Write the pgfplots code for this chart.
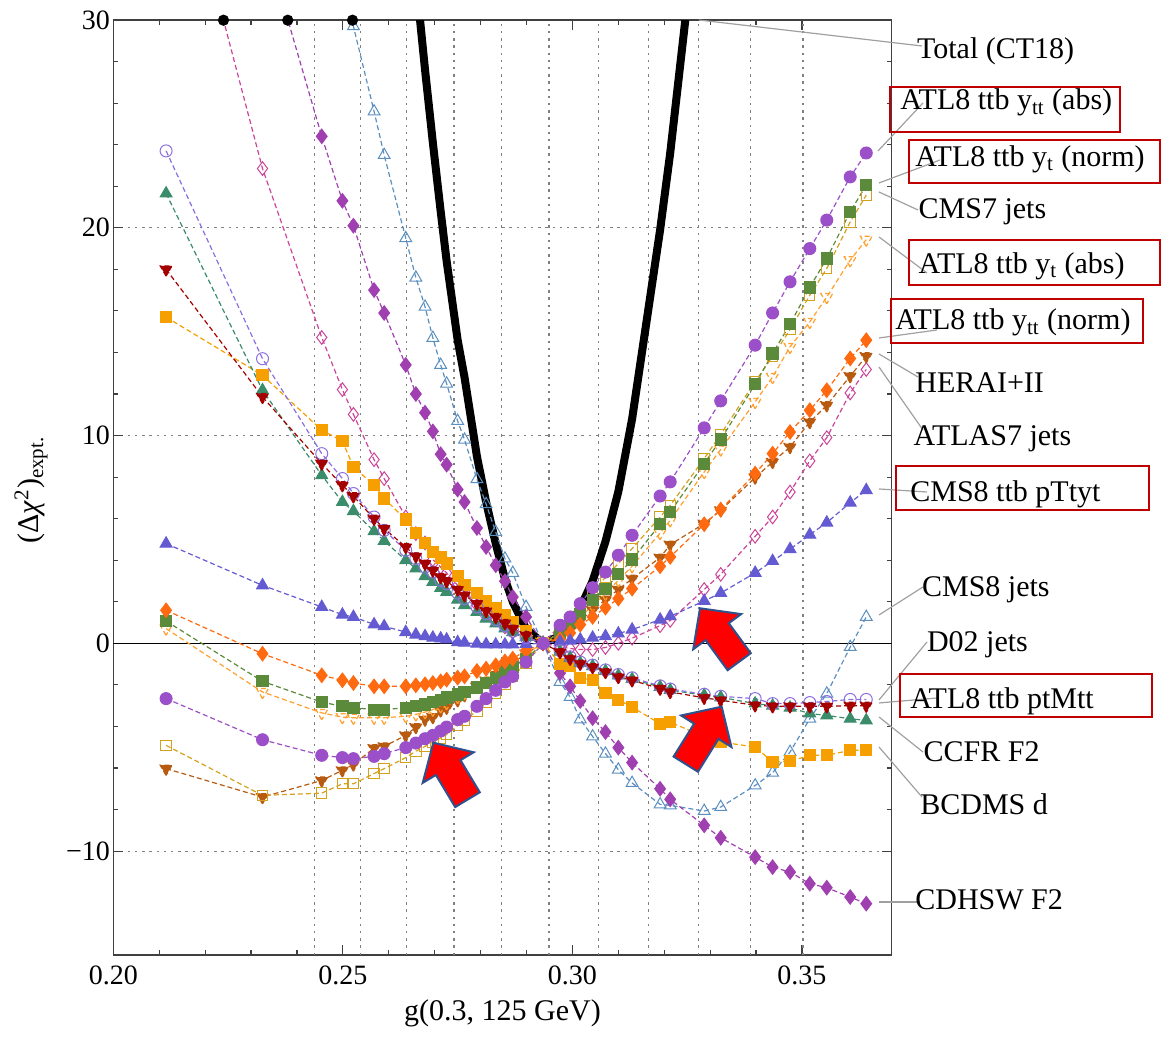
\documentclass[border=0pt]{standalone}
\usepackage{fontspec}
\setmainfont{Liberation Serif}
\usepackage{pgfplots}
\pgfplotsset{compat=1.18}
\usepackage{pgfplotstable}

\definecolor{cA}{RGB}{140,110,225}
\definecolor{cB}{RGB}{58,140,106}
\definecolor{cC}{RGB}{165,0,0}
\definecolor{cD}{RGB}{245,160,0}
\definecolor{cE}{RGB}{100,90,210}
\definecolor{cF}{RGB}{255,106,16}
\definecolor{cG}{RGB}{90,138,58}
\definecolor{cH}{RGB}{255,160,48}
\definecolor{cI}{RGB}{155,79,200}
\definecolor{cJ}{RGB}{212,160,32}
\definecolor{cK}{RGB}{184,90,16}
\definecolor{cL}{RGB}{204,68,153}
\definecolor{cM}{RGB}{160,64,176}
\definecolor{cN}{RGB}{90,143,192}
\definecolor{boxred}{RGB}{192,0,0}
\definecolor{arrblue}{RGB}{47,82,143}
\definecolor{leader}{RGB}{160,160,160}

\pgfplotstableread{
x      A     B     C     D     E     F     G     H     I     J     K     L     M      N     T
0.2115 23.7  21.65 18.0  15.7  4.8   1.59  1.07  0.71  -2.66 -4.91 -6.03 40.5  55     70    nan
0.2325 13.7  12.18 11.86 12.9  2.79  -0.5  -1.83 -2.34 -4.64 -7.32 -7.4  22.85 34.2   48    nan
0.2454 9.13  8.09  8.65  10.26 1.75  -1.54 -2.83 -3.35 -5.39 -7.21 -6.6  14.72 24.4   36    nan
0.2499 7.93  6.8   7.61  9.74  1.38  -1.78 -3.03 -3.55 -5.5  -6.76 -6.11 12.21 21.3   32.0  nan
0.2523 7.21  6.36  7.08  8.49  1.27  -1.91 -3.1  -3.58 -5.55 -6.76 -5.83 11.02 20.1   29.7  nan
0.2568 6.08  5.39  6.0   7.61  0.91  -2.07 -3.19 -3.58 -5.44 -6.27 -5.04 8.84  17.0   25.6  nan
0.2590 5.44  4.93  5.52  6.97  0.82  -2.07 -3.19 -3.58 -5.31 -6.03 -4.96 7.93  15.9   23.5  nan
0.2637 4.48  4.0   4.64  5.96  0.54  -2.07 -3.1  -3.51 -5.02 -5.5  -4.43 6.08  13.4   19.5  37.3
0.2659 4.08  3.6   4.19  5.31  0.42  -2.02 -3.03 -3.42 -4.8  -5.19 -4.03 5.28  12.0   17.6  32.0
0.2679 3.67  3.23  3.84  4.83  0.34  -1.97 -2.94 -3.31 -4.59 -4.96 -3.67 4.83  11.1   16.2  27.6
0.2696 3.43  2.95  3.51  4.4   0.27  -1.91 -2.83 -3.19 -4.43 -4.75 -3.55 4.03  10.2   14.7  24.1
0.2713 3.03  2.66  3.19  4.13  0.23  -1.83 -2.71 -3.03 -4.22 -4.55 -3.23 3.67  9.1    13.4  20.8
0.2726 2.87  2.47  2.99  3.84  0.18  -1.75 -2.61 -2.87 -4.03 -4.38 -3.1  3.39  8.6    12.5  18.4
0.2750 2.42  2.1   2.59  3.23  0.05  -1.65 -2.46 -2.58 -3.67 -3.95 -2.74 2.79  7.4    10.7  14.6
0.2765 2.15  1.83  2.31  2.79  0.03  -1.59 -2.34 -2.39 -3.51 -3.7  -2.5  2.47  6.8    9.8   12.8
0.2792 1.75  1.51  1.91  2.42  -0.02 -1.33 -2.13 -2.07 -3.03 -3.25 -2.1  1.83  5.55   7.9   9.0
0.2812 1.43  1.19  1.56  2.04  -0.05 -1.22 -1.91 -1.78 -2.66 -2.85 -1.8  1.51  4.64   6.7   6.8
0.2833 1.14  0.95  1.27  1.70  -0.06 -1.06 -1.65 -1.46 -2.26 -2.4  -1.5  1.14  3.76   5.36  4.8
0.2853 0.85  0.71  0.98  1.35  -0.06 -0.87 -1.38 -1.14 -1.86 -1.95 -1.2  0.79  2.99   4.08  3.1
0.2870 0.58  0.54  0.71  1.03  -0.05 -0.74 -1.14 -0.9  -1.59 -1.6  -0.95 0.54  2.23   3.39  2.0
0.2899 0.27  0.3   0.39  0.58  -0.03 -0.34 -0.74 -0.5  -0.9  -0.95 -0.5  0.3   1.27   1.75  0.7
0.2936 0     0     0     0     0     0     0     0     0     0     0     0     0      0     0
0.2973 -0.35 -0.4  -0.42 -0.98 0.08  0.2   0.5   0.4   0.87  0.55  0.3   -0.15 -1.43  -1.86 0.35
0.2995 -0.65 -0.7  -0.74 -1.11 0.12  0.5   1.0   0.85  1.27  1.05  0.7   -0.25 -2.07  -2.58 0.9
0.3017 -0.9  -0.95 -0.98 -1.65 0.18  0.9   1.43  1.25  1.91  1.6   1.1   -0.3  -2.78  -3.66 1.7
0.3044 -1.05 -1.1  -1.14 -1.78 0.27  1.27  2.07  1.83  2.68  2.4   1.6   -0.3  -3.6   -4.48 3.0
0.3072 -1.28 -1.33 -1.38 -2.39 0.34  1.72  2.63  2.39  3.43  3.19  2.1   -0.2  -4.27  -5.31 4.9
0.3100 -1.5  -1.55 -1.62 -2.71 0.47  2.15  3.32  3.03  4.24  3.84  2.59  0.0   -5.02  -6.08 7.3
0.3130 -1.66 -1.72 -1.78 -3.07 0.66  2.63  4.03  3.71  5.2   4.56  3.11  0.25  -5.74  -6.72 10.8
0.3191 -2.05 -2.1  -2.18 -3.87 1.14  3.71  5.73  5.31  7.09  6.08  4.13  0.85  -7.0   -7.75 19.9
0.3213 -2.2  -2.25 -2.34 -3.79 1.3   4.16  6.32  5.92  7.77  6.64  4.75  1.1   -7.51  -7.8  23.6
0.3287 -2.45 -2.5  -2.62 -4.5  2.04  5.73  8.65  8.25  10.37 8.89  5.76  2.59  -8.76  -8.07 38
0.3323 -2.55 -2.6  -2.74 -4.75 2.42  6.44  9.81  9.33  11.67 10.06 6.4   3.32  -9.36  -7.88 nan
0.3398 -2.66 -2.9  -2.98 -4.99 3.39  8.17  12.47 11.62 14.35 12.6  7.98  5.15  -10.29 -6.84 nan
0.3436 -2.9  -3.0  -3.03 -5.71 3.96  9.13  13.95 12.82 15.9  13.8  8.73  6.08  -10.77 -6.23 nan
0.3474 -2.9  -3.1  -3.03 -5.68 4.53  10.17 15.36 14.27 17.4  15.1  9.45  7.28  -11.01 -5.23 nan
0.3517 -2.85 -3.38 -3.03 -5.39 5.23  11.22 17.13 15.47 19.0  16.75 10.65 8.78  -11.57 -3.63 nan
0.3554 -2.8  -3.47 -3.03 -5.39 5.81  12.18 18.52 16.67 20.37 18.04 11.46 9.9   -11.76 -2.42 nan
0.3605 -2.7  -3.63 -3.0  -5.15 6.77  13.71 20.77 18.44 22.45 20.28 12.86 12.05 -12.21 -0.18 nan
0.3640 -2.7  -3.71 -3.0  -5.15 7.37  14.59 22.05 19.43 23.6  21.57 13.82 13.18 -12.53 1.27  nan
}\datatable

\pgfplotsset{
  ser/.style={line width=0.6bp, dash pattern=on 2.5bp off 1.5bp,
              mark options={solid, line width=0.5bp}},
}

\begin{document}
\begin{tikzpicture}
\useasboundingbox (0,0) rectangle (580.5bp,520.5bp);
\begin{axis}[
  at={(56.65bp,43bp)}, anchor=south west,
  scale only axis, width=389.1bp, height=467.5bp,
  xmin=0.2, xmax=0.3695, ymin=-15, ymax=30,
  axis line style={line width=0.7bp, black!75},
  tick style={line width=0.6bp, black!75},
  tick align=inside,
  major tick length=5bp, minor tick length=2.5bp,
  xtick={0.20,0.25,0.30,0.35},
  xticklabels={0.20,0.25,0.30,0.35},
  minor x tick num=4,
  ytick={-10,0,10,20,30},
  yticklabels={−10,0,10,20,30},
  minor y tick num=4,
  ymajorgrids=true,
  major grid style={gray, line width=0.6bp, dash pattern=on 1.2bp off 2.4bp},
  extra x ticks={0.2439,0.2539,0.2639,0.2742,0.2846,0.2949,0.3056,0.3165,0.3275,0.3387,0.3502},
  extra x tick labels={},
  extra x tick style={grid=major, major tick length=0pt},
  ticklabel style={font=\fontsize{14bp}{16bp}\selectfont},
  yticklabel style={inner sep=1.5bp},
  xticklabel style={yshift=-2bp},
]
\draw[black, line width=0.6bp] (axis cs:0.2,0) -- (axis cs:0.3695,0);
\addplot[black, line width=4bp] table[x=x,y=T] {\datatable};
\addplot[ser, cN, mark=triangle, mark size=3.4bp] table[x=x,y=N] {\datatable};
\addplot[ser, cM, mark=diamond*, mark size=3.6bp] table[x=x,y=M] {\datatable};
\addplot[ser, cL, mark=diamond, mark size=3.4bp] table[x=x,y=L] {\datatable};
\addplot[ser, cK, mark=triangle*, mark size=3.4bp, mark options={rotate=180}] table[x=x,y=K] {\datatable};
\addplot[ser, cJ, mark=square, mark size=2.6bp] table[x=x,y=J] {\datatable};
\addplot[ser, cH, mark=triangle, mark size=3.4bp, mark options={rotate=180}] table[x=x,y=H] {\datatable};
\addplot[ser, cG, mark=square*, mark size=2.8bp] table[x=x,y=G] {\datatable};
\addplot[ser, cF, mark=diamond*, mark size=3.6bp] table[x=x,y=F] {\datatable};
\addplot[ser, cE, mark=triangle*, mark size=3.4bp] table[x=x,y=E] {\datatable};
\addplot[ser, cD, mark=square*, mark size=2.8bp] table[x=x,y=D] {\datatable};
\addplot[ser, cB, mark=triangle*, mark size=3.4bp] table[x=x,y=B] {\datatable};
\addplot[ser, cA, mark=o, mark size=3bp] table[x=x,y=A] {\datatable};
\addplot[ser, cC, mark=triangle*, mark size=3.4bp, mark options={rotate=180}] table[x=x,y=C] {\datatable};
\addplot[ser, cI, mark=*, mark size=3bp] table[x=x,y=I] {\datatable};
\addplot[only marks, black, mark=*, mark size=2.6bp] coordinates {(0.2240,29.99) (0.2380,29.99) (0.2521,29.99)};
\end{axis}

\begin{scope}[x=0.5bp, y=-0.5bp, yshift=520.5bp,
  lab/.style={anchor=base west, inner sep=0pt, font=\fontsize{15bp}{18bp}\selectfont}]
  % leader lines
  \draw[leader, line width=0.6bp] (699,20) -- (922,46);
  \draw[leader, line width=0.6bp] (878,151) -- (923,103);
  \draw[leader, line width=0.6bp] (879,183) -- (940,160);
  \draw[leader, line width=0.6bp] (879,192) -- (918,210);
  \draw[leader, line width=0.6bp] (879,237) -- (927,273);
  \draw[leader, line width=0.6bp] (879,338) -- (937,330);
  \draw[leader, line width=0.6bp] (879,354) -- (918,377);
  \draw[leader, line width=0.6bp] (879,367) -- (923,430);
  \draw[leader, line width=0.6bp] (879,489) -- (927,492);
  \draw[leader, line width=0.6bp] (879,615) -- (923,587);
  \draw[leader, line width=0.6bp] (879,700) -- (927,642);
  \draw[leader, line width=0.6bp] (879,703) -- (937,698);
  \draw[leader, line width=0.6bp] (879,717) -- (923,752);
  \draw[leader, line width=0.6bp] (879,747) -- (922,797);
  \draw[leader, line width=0.6bp] (879,902) -- (920,902);
  % labels
  \node[lab] at (916.7,58.3) {Total (CT18)};
  \node[lab] at (900,110) {ATL8 ttb y\textsubscript{tt} (abs)};
  \node[lab] at (915,166.7) {ATL8 ttb y\textsubscript{t} (norm)};
  \node[lab] at (918.3,218.3) {CMS7 jets};
  \node[lab] at (918.3,273.3) {ATL8 ttb y\textsubscript{t} (abs)};
  \node[lab] at (895,330) {ATL8 ttb y\textsubscript{tt} (norm)};
  \node[lab] at (915,392.7) {HERAI+II};
  \node[lab] at (913.3,446) {ATLAS7 jets};
  \node[lab] at (910,501.7) {CMS8 ttb pTtyt};
  \node[lab] at (921.7,596.7) {CMS8 jets};
  \node[lab] at (926.7,651.7) {D02 jets};
  \node[lab] at (910,708.3) {ATL8 ttb ptMtt};
  \node[lab] at (923.3,761.7) {CCFR F2};
  \node[lab] at (920,815) {BCDMS d};
  \node[lab] at (915,910) {CDHSW F2};
  % red boxes
  \draw[boxred, line width=1bp] (890,86.7) rectangle (1120,131.7);
  \draw[boxred, line width=1bp] (909.3,140) rectangle (1160,182.7);
  \draw[boxred, line width=1bp] (909.3,240) rectangle (1160,285);
  \draw[boxred, line width=1bp] (890.7,299) rectangle (1143.3,342.7);
  \draw[boxred, line width=1bp] (896,466) rectangle (1148.7,510);
  \draw[boxred, line width=1bp] (900,674) rectangle (1152,717.3);
  % arrows
  \filldraw[fill=red, draw=arrblue, line width=1bp, line join=miter]
    (433.3,742.7) -- (473.7,752.3) -- (460.5,760.2) -- (479.8,792.3) -- (455.2,807.1) -- (435.9,775.0) -- (422.7,782.9) -- cycle;
  \filldraw[fill=red, draw=arrblue, line width=1bp, line join=miter]
    (700,608.3) -- (741.2,614.1) -- (728.8,623.2) -- (750.8,653.2) -- (727.6,670.2) -- (705.6,640.2) -- (693.2,649.3) -- cycle;
  \filldraw[fill=red, draw=arrblue, line width=1bp, line join=miter]
    (721.7,706.7) -- (731.5,747.1) -- (718.5,738.9) -- (698.0,771.8) -- (673.6,756.6) -- (694.1,723.7) -- (681.1,715.5) -- cycle;
  % axis labels
  \node[font=\fontsize{15bp}{18bp}\selectfont, rotate=90] at (31,490) {(Δ\textit{χ}\textsuperscript{2})\textsubscript{expt.}};
  \node[font=\fontsize{15bp}{18bp}\selectfont] at (502.5,1013) {g(0.3, 125 GeV)};
\end{scope}
\end{tikzpicture}
\end{document}
